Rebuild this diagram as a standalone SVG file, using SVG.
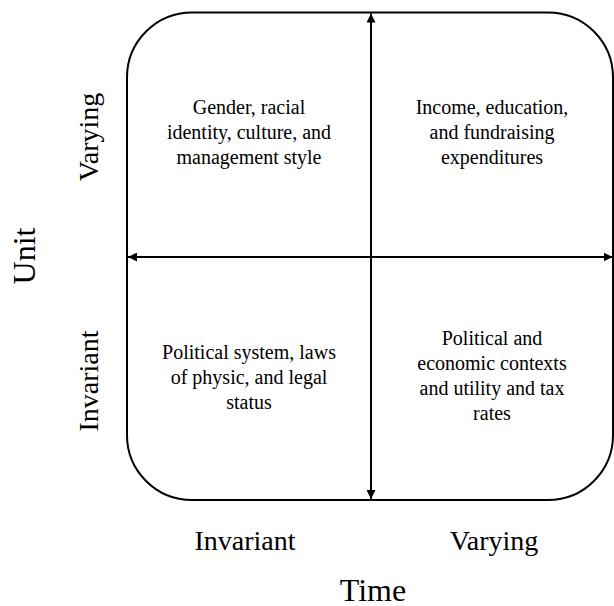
<svg xmlns="http://www.w3.org/2000/svg" width="614" height="606" viewBox="0 0 614 606">
<style>
text{font-family:"Liberation Serif","Times New Roman",serif;fill:#000;text-anchor:middle}
.q{font-size:20px}
.s{font-size:28px}
.m{font-size:32px}
.ax{stroke:#000;stroke-width:2;fill:none}
</style>
<defs>
<marker id="ah" viewBox="0 0 10 10" refX="10" refY="5" markerWidth="4.5" markerHeight="4.5" orient="auto-start-reverse" markerUnits="strokeWidth">
<path d="M0,0 L10,5 L0,10 Z" fill="#000"/>
</marker>
</defs>
<rect width="614" height="606" fill="#fff"/>
<g id="frame">
<rect x="127" y="12.5" width="486" height="487.5" rx="65" ry="65" fill="none" stroke="#000" stroke-width="2"/>
</g>
<g id="connectors">
<line class="ax" x1="371" y1="499" x2="371" y2="13.5" marker-start="url(#ah)" marker-end="url(#ah)"/>
<line class="ax" x1="128" y1="257" x2="612.5" y2="257" marker-start="url(#ah)" marker-end="url(#ah)"/>
</g>
<g id="q-top-left">
<text class="q" x="249" y="114">Gender, racial</text>
<text class="q" x="249" y="139">identity, culture, and</text>
<text class="q" x="249" y="164">management style</text>
</g>
<g id="q-top-right">
<text class="q" x="492" y="114">Income, education,</text>
<text class="q" x="492" y="139">and fundraising</text>
<text class="q" x="492" y="164">expenditures</text>
</g>
<g id="q-bottom-left">
<text class="q" x="249" y="359">Political system, laws</text>
<text class="q" x="249" y="384">of physic, and legal</text>
<text class="q" x="249" y="409">status</text>
</g>
<g id="q-bottom-right">
<text class="q" x="492" y="345">Political and</text>
<text class="q" x="492" y="370">economic contexts</text>
<text class="q" x="492" y="395">and utility and tax</text>
<text class="q" x="492" y="420">rates</text>
</g>
<g id="time-labels">
<text class="s" x="245" y="550">Invariant</text>
<text class="s" x="494" y="550">Varying</text>
<text class="m" x="373" y="601">Time</text>
</g>
<g id="unit-labels">
<text class="s" transform="translate(98,137) rotate(-90)">Varying</text>
<text class="s" transform="translate(98,381) rotate(-90)">Invariant</text>
<text class="m" transform="translate(35,256) rotate(-90)">Unit</text>
</g>
</svg>
